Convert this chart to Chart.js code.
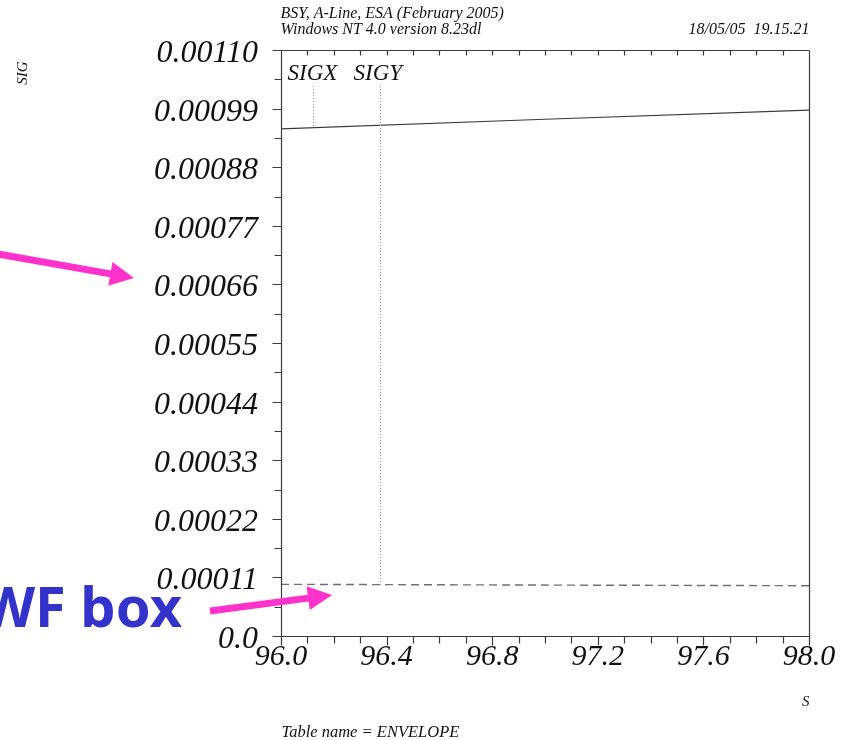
<!DOCTYPE html>
<html>
<head>
<meta charset="utf-8">
<script src="https://cdn.jsdelivr.net/npm/chart.js@4.4.0/dist/chart.umd.min.js"></script>
<style>
  html, body { margin: 0; padding: 0; background: #ffffff; }
  #wrap { width: 843px; height: 740px; position: relative; }
</style>
</head>
<body>
<div id="wrap"><canvas id="c" width="843" height="740"></canvas></div>
<script>
// Beam envelope along the line: position s and the two beam sizes
const sPos = [96.0, 97.0, 98.0];
const sigx = [0.000952, 0.000970, 0.000987];
const sigy = [0.0000970, 0.0000956, 0.0000944];
const seriesNames = ['SIGX', 'SIGY'];

// Axis ticks
const xTickValues = [96.0, 96.4, 96.8, 97.2, 97.6, 98.0];
const xTickLabels = ['96.0', '96.4', '96.8', '97.2', '97.6', '98.0'];
const yTickValues = [0, 0.00011, 0.00022, 0.00033, 0.00044, 0.00055, 0.00066, 0.00077, 0.00088, 0.00099, 0.0011];
const yTickLabels = ['0.0', '0.00011', '0.00022', '0.00033', '0.00044', '0.00055', '0.00066', '0.00077', '0.00088', '0.00099', '0.00110'];

// Where each curve name's leader line drops onto its curve
const leaderAt = [96.12, 96.375];

const SERIF = '"Liberation Serif", "Times New Roman", serif';

function valueAt(xs, ys, s) {
  for (let i = 0; i < xs.length - 1; i++) {
    if (s >= xs[i] && s <= xs[i + 1]) {
      const t = (s - xs[i]) / (xs[i + 1] - xs[i]);
      return ys[i] + t * (ys[i + 1] - ys[i]);
    }
  }
  return ys[ys.length - 1];
}

function drawArrow(ctx, x0, y0, x1, y1, shaft, headLen, headHalf) {
  const ang = Math.atan2(y1 - y0, x1 - x0);
  const len = Math.hypot(x1 - x0, y1 - y0);
  ctx.save();
  ctx.translate(x0, y0);
  ctx.rotate(ang);
  ctx.beginPath();
  ctx.moveTo(0, -shaft / 2);
  ctx.lineTo(len - headLen, -shaft / 2);
  ctx.lineTo(len - headLen, -headHalf);
  ctx.lineTo(len, 0);
  ctx.lineTo(len - headLen, headHalf);
  ctx.lineTo(len - headLen, shaft / 2);
  ctx.lineTo(0, shaft / 2);
  ctx.closePath();
  ctx.fill();
  ctx.restore();
}

// Frame, minor/major tick marks, curve names, headers and notes
const framePlugin = {
  id: 'envelopeFrame',
  afterDatasetsDraw(chart) {
    const { ctx, chartArea: a, scales: { x, y } } = chart;
    const L = Math.round(a.left) + 0.5, R = Math.round(a.right) + 0.5;
    const T = Math.round(a.top) + 0.5, B = Math.round(a.bottom) + 0.5;
    ctx.save();
    ctx.strokeStyle = '#3a3a3a';
    ctx.lineWidth = 1.2;
    ctx.beginPath();
    ctx.moveTo(L, T); ctx.lineTo(R, T);
    ctx.moveTo(R, T); ctx.lineTo(R, B + 9);
    ctx.moveTo(L, T); ctx.lineTo(L, B + 9);
    ctx.moveTo(L, B); ctx.lineTo(R, B);
    // x ticks every 0.1: outward on the bottom, inward on the top
    for (let k = 0; k <= 20; k++) {
      const v = 96 + k * 0.1;
      const px = Math.round(x.getPixelForValue(v)) + 0.5;
      const major = k % 4 === 0;
      ctx.moveTo(px, B); ctx.lineTo(px, B + (major ? 9 : 7));
      ctx.moveTo(px, T); ctx.lineTo(px, T + 5);
    }
    // y ticks every half step, outward on the left
    for (let k = 0; k <= 20; k++) {
      const v = k * 0.000055;
      const py = Math.round(y.getPixelForValue(v)) + 0.5;
      const major = k % 2 === 0;
      ctx.moveTo(L - (major ? 9 : 7), py); ctx.lineTo(L, py);
    }
    ctx.stroke();

    // curve names with dotted leaders down to each curve
    ctx.fillStyle = '#111';
    ctx.font = 'italic 23px ' + SERIF;
    ctx.textBaseline = 'alphabetic';
    ctx.textAlign = 'left';
    ctx.fillText(seriesNames[0], L + 6, 80);
    ctx.fillText(seriesNames[1], L + 72, 80);
    ctx.strokeStyle = '#9a9a9a';
    ctx.lineWidth = 1;
    ctx.setLineDash([1, 2]);
    const curves = [sigx, sigy];
    ctx.beginPath();
    leaderAt.forEach((s, i) => {
      const px = Math.round(x.getPixelForValue(s)) + 0.5;
      const py = y.getPixelForValue(valueAt(sPos, curves[i], s));
      ctx.moveTo(px, 86); ctx.lineTo(px, py);
    });
    ctx.stroke();
    ctx.setLineDash([]);

    // header lines
    ctx.font = 'italic 16px ' + SERIF;
    ctx.fillStyle = '#111';
    ctx.fillText('BSY, A-Line, ESA (February 2005)', L - 1, 18);
    ctx.fillText('Windows NT 4.0 version 8.23dl', L - 1, 34);
    ctx.textAlign = 'right';
    ctx.fillText('18/05/05  19.15.21', R, 34);

    // axis names
    ctx.font = 'italic 15px ' + SERIF;
    ctx.fillText('S', R, 706);
    ctx.save();
    ctx.translate(27, 73);
    ctx.rotate(-Math.PI / 2);
    ctx.textAlign = 'center';
    ctx.fillText('SIG', 0, 0);
    ctx.restore();

    ctx.textAlign = 'left';
    ctx.font = 'italic 16.5px ' + SERIF;
    ctx.fillText('Table name = ENVELOPE', L, 737);

    // callouts
    ctx.fillStyle = '#ff33cc';
    drawArrow(ctx, -2, 254, 134, 278, 7, 24, 12);
    drawArrow(ctx, 210, 611, 332, 595, 7, 24, 12);

    ctx.fillStyle = '#3333cc';
    ctx.font = 'bold 56px "Noto Sans", "DejaVu Sans", sans-serif';
    ctx.textAlign = 'right';
    ctx.fillText('WF box', 182, 627);
    ctx.restore();
  }
};

new Chart(document.getElementById('c'), {
  type: 'line',
  data: {
    datasets: [
      {
        label: seriesNames[0],
        data: sPos.map((s, i) => ({ x: s, y: sigx[i] })),
        borderColor: '#3a3a3a',
        borderWidth: 1.2,
        pointRadius: 0,
        fill: false,
        tension: 0
      },
      {
        label: seriesNames[1],
        data: sPos.map((s, i) => ({ x: s, y: sigy[i] })),
        borderColor: '#707070',
        borderWidth: 1.4,
        borderDash: [8, 5],
        pointRadius: 0,
        fill: false,
        tension: 0
      }
    ]
  },
  options: {
    responsive: false,
    devicePixelRatio: 1,
    animation: false,
    layout: { padding: { top: 50, right: 34, left: 0, bottom: 0 } },
    plugins: { legend: { display: false }, tooltip: { enabled: false }, title: { display: false } },
    scales: {
      x: {
        type: 'linear',
        min: 96,
        max: 98,
        afterBuildTicks: (s) => { s.ticks = xTickValues.map(v => ({ value: v })); },
        afterFit: (s) => { s.height = 104; },
        grid: { display: false, drawTicks: false, tickLength: 0 },
        border: { display: false },
        ticks: {
          autoSkip: false,
          maxRotation: 0,
          padding: 3,
          color: '#111',
          font: { family: SERIF, size: 30, style: 'italic' },
          callback: (v, i) => xTickLabels[i]
        }
      },
      y: {
        type: 'linear',
        min: 0,
        max: 0.0011,
        afterBuildTicks: (s) => { s.ticks = yTickValues.map(v => ({ value: v })); },
        afterFit: (s) => { s.width = 281; },
        grid: { display: false, drawTicks: false, tickLength: 0 },
        border: { display: false },
        ticks: {
          autoSkip: false,
          padding: 23,
          color: '#111',
          // a blank first line with a short line height nudges each label a little lower
          font: { family: SERIF, size: 32, style: 'italic', lineHeight: '7px' },
          callback: (v, i) => ['', yTickLabels[i]]
        }
      }
    }
  },
  plugins: [framePlugin]
});
</script>
</body>
</html>
